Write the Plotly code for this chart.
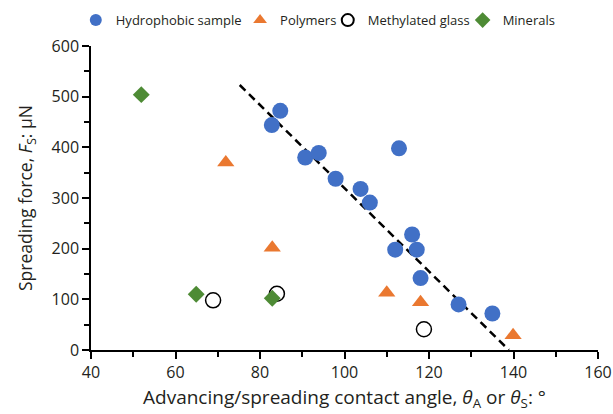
import plotly.graph_objects as go

# Hydrophobic samples
hyd_x = [84.8, 82.8, 90.7, 93.9, 97.9, 103.8, 106.0, 112.9, 112.0, 116.0, 117.1, 118.0, 127.0, 135.0]
hyd_y = [472, 444, 380, 389, 338, 318, 291, 398, 198, 228, 198, 142, 90, 72]
# Polymers
pol_x = [71.9, 82.9, 110.0, 118.0, 139.9]
pol_y = [370, 202, 113, 94, 29]
# Methylated glass
met_x = [68.9, 84.0, 118.8]
met_y = [98, 111, 41]
# Minerals
min_x = [51.9, 64.9, 82.9]
min_y = [504, 110, 102]
# Trend line end points
trend_x = [75.2, 138.9]
trend_y = [523, 0]

BLUE = "#4170C6"
ORANGE = "#EA7830"
GREEN = "#4E8B35"
TXT = "#231f20"
FONT = "Open Sans"

fig = go.Figure()
fig.add_trace(go.Scatter(x=trend_x, y=trend_y, mode="lines", showlegend=False,
                         line=dict(color="black", width=2.5, dash="8px,5px")))
fig.add_trace(go.Scatter(x=hyd_x, y=hyd_y, mode="markers", name="Hydrophobic sample", legend="legend",
                         marker=dict(symbol="circle", size=16, color=BLUE)))
fig.add_trace(go.Scatter(x=pol_x, y=pol_y, mode="markers", name="Polymers", legend="legend2",
                         marker=dict(symbol="triangle-up", size=15, color=ORANGE)))
fig.add_trace(go.Scatter(x=met_x, y=met_y, mode="markers", name="Methylated glass", legend="legend3",
                         marker=dict(symbol="circle-open", size=15, color="black", line=dict(width=1.5, color="black"))))
fig.add_trace(go.Scatter(x=min_x, y=min_y, mode="markers", name="Minerals", legend="legend4",
                         marker=dict(symbol="diamond", size=13, color=GREEN)))

def leg(x):
    return dict(orientation="h", x=x, xanchor="left", y=1.085, yanchor="middle",
                font=dict(size=13, family=FONT, color=TXT), itemsizing="constant",
                bgcolor="rgba(0,0,0,0)")

fig.update_layout(
    width=613, height=414,
    margin=dict(l=91, r=15, t=46, b=64, autoexpand=False),
    plot_bgcolor="white", paper_bgcolor="white",
    font=dict(family=FONT, color=TXT, size=16),
    legend=leg(-0.030), legend2=leg(0.294), legend3=leg(0.467), legend4=leg(0.733),
    xaxis=dict(range=[40, 160], dtick=20, tick0=40, showgrid=False, zeroline=False,
               showline=True, linecolor="black", linewidth=1.5,
               ticks="outside", ticklen=7, tickwidth=1.5, tickcolor="black",
               minor=dict(dtick=10, ticks="outside", ticklen=5, tickwidth=1.5, tickcolor="black", showgrid=False),
               tickfont=dict(size=16),
               title=dict(text="Advancing/spreading contact angle, <i>θ</i><sub>A</sub> or <i>θ</i><sub>S</sub>: °",
                          font=dict(size=19), standoff=9)),
    yaxis=dict(range=[0, 600], dtick=100, showgrid=False, zeroline=False,
               showline=True, linecolor="black", linewidth=1.5,
               ticks="outside", ticklen=7, tickwidth=1.5, tickcolor="black",
               minor=dict(dtick=50, ticks="outside", ticklen=5, tickwidth=1.5, tickcolor="black", showgrid=False),
               tickfont=dict(size=16),
               title=dict(text="Spreading force, <i>F</i><sub>S</sub>: μN", font=dict(size=17.5), standoff=14)),
)

fig.write_html("out.html")
